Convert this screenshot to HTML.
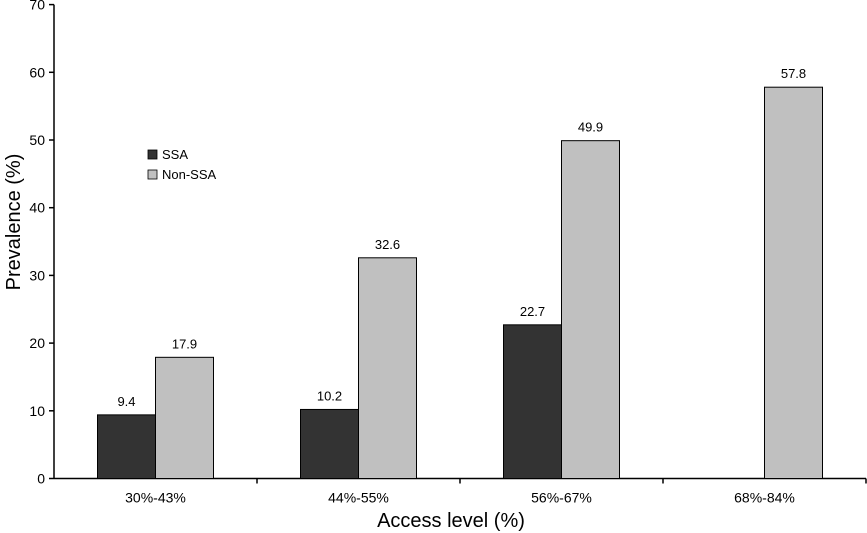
<!DOCTYPE html>
<html><head><style>
body{margin:0;background:#fff;}
svg{display:block;font-family:"Liberation Sans",Arial,sans-serif;}
</style></head><body>
<svg id="chart" width="867" height="533"></svg>
<script>
const categories=["30%-43%","44%-55%","56%-67%","68%-84%"];
const ssaValues=[9.4,10.2,22.7,null];
const nonSsaValues=[17.9,32.6,49.9,57.8];
const yTicks=[0,10,20,30,40,50,60,70];
const NS="http://www.w3.org/2000/svg";
const svg=document.getElementById('chart');
const X0=54,Y0=478.5,CW=203,PX=6.77,BW=58;
const y=v=>Y0-v*PX;
function el(t,a,txt){const e=document.createElementNS(NS,t);for(const k in a)e.setAttribute(k,a[k]);if(txt!=null)e.textContent=txt;svg.appendChild(e);return e;}
const ya=el('line',{x1:X0,y1:y(70),x2:X0,y2:Y0,stroke:'#000','stroke-width':1.5});


yTicks.forEach(t=>{
 const tk=el('line',{x1:X0-5,y1:y(t),x2:X0,y2:y(t),stroke:'#000','stroke-width':1.5});
 
 
 const lb=el('text',{x:X0-9,y:y(t)+5,'text-anchor':'end','font-size':14},t);
 
 
});
const xa=el('line',{x1:X0,y1:Y0,x2:X0+CW*categories.length,y2:Y0,stroke:'#000','stroke-width':1.5});


categories.forEach((c,i)=>{
 const tx=X0+CW*(i+1);
 const tk=el('line',{x1:tx,y1:Y0,x2:tx,y2:Y0+5,stroke:'#000','stroke-width':1.5});
 
 
 const cx=X0+CW*i+CW/2;
 const lb=el('text',{x:cx,y:Y0+24,'text-anchor':'middle','font-size':14},c);
 
 
 [[ssaValues[i],'#333333',cx-BW,'ssa'],[nonSsaValues[i],'#c0c0c0',cx,'non-ssa']].forEach(([v,f,bx,n])=>{
  if(v==null)return;
  const r=el('rect',{x:bx,y:y(v),width:BW,height:Y0-y(v),fill:f,stroke:'#000','stroke-width':1});
  
  
  const t=el('text',{x:bx+BW/2,y:y(v)-9,'text-anchor':'middle','font-size':13},v.toFixed(1));
  
  
 });
});
const yt=el('text',{x:0,y:0,transform:'translate(20,222) rotate(-90)','text-anchor':'middle','font-size':20},'Prevalence (%)');


const xt=el('text',{x:451,y:527,'text-anchor':'middle','font-size':20},'Access level (%)');


[['SSA','#333333',150],['Non-SSA','#c0c0c0',170]].forEach(([n,f,ly])=>{
 const r=el('rect',{x:148,y:ly,width:9,height:9,fill:f,stroke:'#000','stroke-width':0.8});
 
 
 const t=el('text',{x:162,y:ly+9,'font-size':13},n);
 
 
});
</script>
</body></html>
